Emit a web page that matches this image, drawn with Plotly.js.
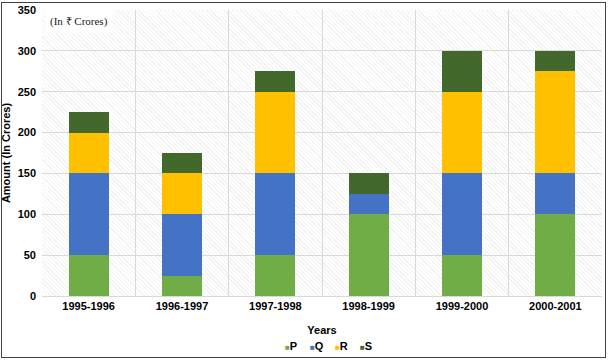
<!DOCTYPE html>
<html>
<head>
<meta charset="utf-8">
<script src="https://cdn.plot.ly/plotly-3.0.1.min.js"></script>
<style>
  html, body { margin: 0; padding: 0; background: #ffffff; }
  #wrap { position: relative; width: 609px; height: 360px; }
  #hatch { position: absolute; left: 42px; top: 10px; width: 560px; height: 286px;
    background: repeating-linear-gradient(45deg, #f2f2f2 0px, #f2f2f2 1px, #ffffff 1px, #ffffff 3px); }
  #chart { position: absolute; left: 0; top: 0; width: 609px; height: 360px; }
  #frame { position: absolute; left: 1px; top: 2px; width: 603px; height: 354px;
    border: 1px solid #444; pointer-events: none; }
</style>
</head>
<body>
<div id="wrap">
  <div id="hatch"></div>
  <div id="chart"></div>
  <div id="frame"></div>
</div>
<script>
const years = ["1995-1996", "1996-1997", "1997-1998", "1998-1999", "1999-2000", "2000-2001"];
const P = [50, 25, 50, 100, 50, 100];
const Q = [100, 75, 100, 25, 100, 50];
const R = [50, 50, 100, 0, 100, 125];
const S = [25, 25, 25, 25, 50, 25];
const seriesNames = ["P", "Q", "R", "S"];
const seriesColors = ["#70ad47", "#4472c4", "#ffc000", "#43682b"];
const seriesData = [P, Q, R, S];

const traces = seriesData.map((vals, i) => ({
  type: "bar",
  name: seriesNames[i],
  x: years,
  y: vals,
  marker: { color: seriesColors[i], line: { width: 0 } },
  showlegend: false,
  hoverinfo: "x+y+name"
}));

const boldFont = { family: "Liberation Sans, Arial, sans-serif", size: 11, color: "#000000", weight: "bold" };

// compact legend (small squares close to labels), built from the series arrays
const plotLeft = 42, plotWidth = 560, plotBottom = 296, plotHeight = 286;
const legendAnnotations = seriesNames.map((n, i) => ({
  xref: "paper", yref: "paper",
  x: (283 + 25 * i - plotLeft) / plotWidth,
  y: (plotBottom - 346) / plotHeight,
  xanchor: "left", yanchor: "middle",
  text: `<span style="color:${seriesColors[i]};font-size:8px">■</span>${n}`,
  showarrow: false,
  font: boldFont
}));

const layout = {
  width: 609,
  height: 360,
  barmode: "stack",
  bargap: 0.57,
  paper_bgcolor: "rgba(0,0,0,0)",
  plot_bgcolor: "rgba(0,0,0,0)",
  margin: { l: 42, r: 7, t: 10, b: 64 },
  showlegend: false,
  xaxis: {
    type: "category",
    tickson: "boundaries",
    showgrid: true,
    gridcolor: "#d9d9d9",
    gridwidth: 1,
    showline: true,
    linecolor: "#d9d9d9",
    ticks: "",
    tickfont: boldFont,
    title: { text: "Years", font: boldFont, standoff: 15 },
    fixedrange: true
  },
  yaxis: {
    range: [0, 350],
    dtick: 50,
    showgrid: true,
    gridcolor: "#d9d9d9",
    gridwidth: 1,
    zeroline: false,
    showline: false,
    ticks: "",
    ticklabelstandoff: 5,
    tickfont: boldFont,
    title: { text: "Amount (In Crores)", font: boldFont, standoff: 4 },
    fixedrange: true
  },
  annotations: [{
    xref: "paper", yref: "paper",
    x: 0.006, y: 1.0,
    xanchor: "left", yanchor: "top",
    text: "(In ₹ Crores)",
    showarrow: false,
    bgcolor: "#ffffff",
    borderpad: 4,
    font: { family: "Liberation Serif, Times New Roman, serif", size: 11, color: "#222222" }
  }].concat(legendAnnotations)
};

Plotly.newPlot("chart", traces, layout, { displayModeBar: false, staticPlot: true });
</script>
</body>
</html>
